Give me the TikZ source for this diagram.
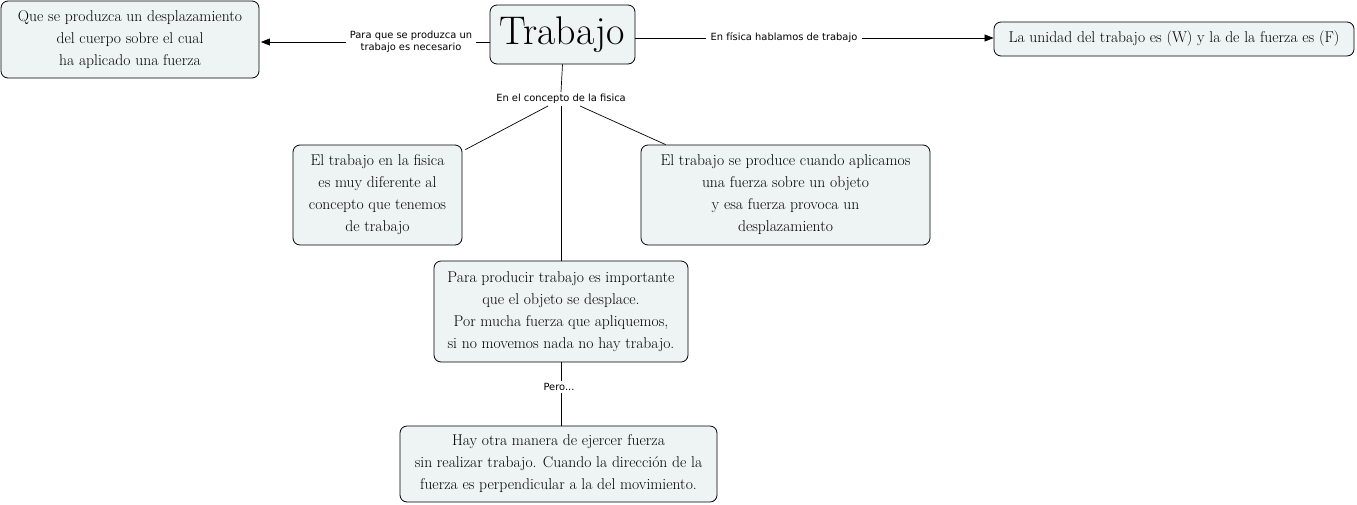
\documentclass[tikz,border=0pt]{standalone}
\usepackage{fontspec}
\newfontfamily\lblfont{DejaVu Sans}
\usetikzlibrary{arrows.meta,calc}
\definecolor{boxfill}{HTML}{EEF4F4}
\begin{document}
\begin{tikzpicture}[x=1pt,y=-1pt,
  box/.style={draw=black, line width=0.8pt, fill=boxfill, rounded corners=7pt, inner sep=0pt, align=center,
    font=\fontsize{15.6}{22}\selectfont},
  lbl/.style={fill=white, inner xsep=4pt, inner ysep=2pt, align=center, font=\lblfont\fontsize{9.9}{12.5}\selectfont},
  conn/.style={draw=black, line width=0.7pt},
  arr/.style={conn, -{Triangle[length=9pt,width=7pt]}}
]
\useasboundingbox (0,0) rectangle (1357,504);
\node[box, minimum width=258, minimum height=77] (Q) at (130,39.5) {Que se produzca un desplazamiento\\del cuerpo sobre el cual\\ha aplicado una fuerza};
\node[box, minimum width=145, minimum height=59, font=\fontsize{40}{40}\selectfont] (T) at (562.5,34.5) {Trabajo};
\node[box, minimum width=360, minimum height=34] (U) at (1174,39) {La unidad del trabajo es (W) y la de la fuerza es (F)};
\node[box, minimum width=169, minimum height=100] (A) at (377.5,195) {El trabajo en la fisica\\es muy diferente al\\concepto que tenemos\\de trabajo};
\node[box, minimum width=289, minimum height=100] (B) at (785.5,195) {El trabajo se produce cuando aplicamos\\una fuerza sobre un objeto\\y esa fuerza provoca un\\desplazamiento};
\node[box, minimum width=254, minimum height=101] (C) at (561,311.5) {Para producir trabajo es importante\\que el objeto se desplace.\\Por mucha fuerza que apliquemos,\\si no movemos nada no hay trabajo.};
\node[box, minimum width=317, minimum height=76] (D) at (558.5,464) {Hay otra manera de ejercer fuerza\\sin realizar trabajo. Cuando la dirección de la\\fuerza es perpendicular a la del movimiento.};

\node[lbl] (lp) at (411,42) {Para que se produzca un\\trabajo es necesario};
\node[lbl] (lf) at (784,38) {En física hablamos de trabajo};
\node[lbl] (lc) at (561,99) {En el concepto de la fisica};

\draw[conn] (T.west |- lp) -- (lp.east);
\draw[arr, shorten >=1.5pt] (lp.west) -- (Q.east |- lp);
\draw[conn] (T.east |- lf) -- (lf.west);
\draw[arr] (lf.east) -- (U.west |- lf);
\draw[conn] (T.south) -- (lc.north);
\draw[conn] ([xshift=-13]lc.south) -- ([shift={(3,5)}]A.north east);
\draw[conn] ([xshift=19]lc.south) -- ([xshift=25]B.north west);
\draw[conn] (lc.south) -- (C.north);
\draw[conn] (C.south) -- (C.south |- D.north);
\node[lbl] (lpero) at (559,387) {Pero...};
\end{tikzpicture}
\end{document}
